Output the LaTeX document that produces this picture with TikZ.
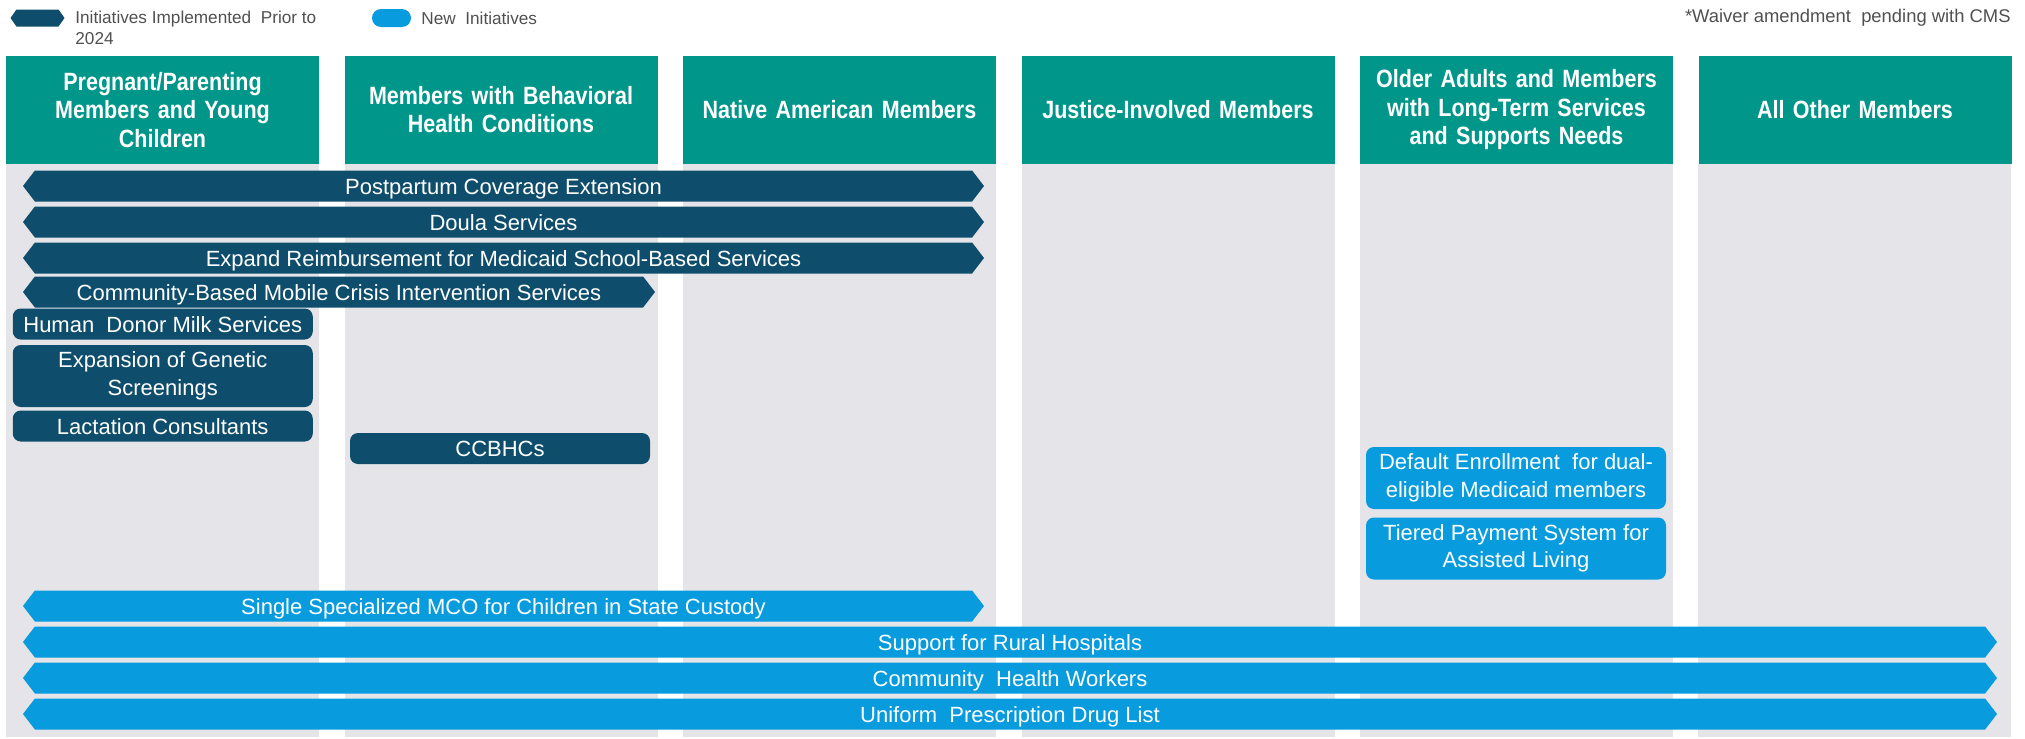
\documentclass[tikz,border=0pt]{standalone}
\usepackage{fontspec}
\setmainfont{Liberation Sans}
\newfontfamily\headfont[FakeStretch=0.86]{Liberation Sans}
\usetikzlibrary{shapes.symbols,shapes.misc}

\definecolor{headteal}{RGB}{0,150,138}
\definecolor{oldnavy}{RGB}{14,78,108}
\definecolor{newblue}{RGB}{8,155,222}
\definecolor{lanegray}{RGB}{228,228,233}
\definecolor{notegray}{RGB}{80,80,80}

\tikzset{
  head/.style={fill=headteal, text=white, font=\headfont\bfseries\fontsize{12.5}{14.2}\selectfont,
    align=center, text width=150pt, minimum width=156.5pt, minimum height=54.25pt, inner sep=0pt},
  barfont/.style={text=white, font=\fontsize{11}{13.8}\selectfont, align=center, inner sep=0pt},
  oneline/.style={text height=8pt, text depth=0pt},
  oldrun/.style={barfont, oneline, shape=signal, signal to=west and east, signal pointer angle=105,
    fill=oldnavy, minimum height=15.5pt},
  newrun/.style={oldrun, fill=newblue},
  oldbox/.style={barfont, rectangle, rounded corners=4pt, fill=oldnavy,
    minimum width=150pt, minimum height=15.5pt},
  newbox/.style={oldbox, fill=newblue},
  oldtag/.style={oldbox, oneline},
  keytext/.style={text=notegray, font=\fontsize{8.6}{10.5}\selectfont, inner sep=0pt, align=left}
}

\begin{document}
\begin{tikzpicture}[x=0.5pt,y=-0.5pt]
\useasboundingbox (0,0) rectangle (2025,739);

% legend and note
\node[oldrun, minimum width=27pt, minimum height=8.5pt, signal pointer angle=110] (keyold) at (37.5,18) {};
\node[keytext, anchor=north west] (keyoldtext) at (75,11) {Initiatives Implemented\ \ Prior to\\2024};
\node[rounded rectangle, fill=newblue, minimum width=19.5pt, minimum height=9pt, inner sep=0pt] (keynew) at (391.5,18) {};
\node[keytext, anchor=west] (keynewtext) at (421,18) {New\ \ Initiatives};
\node[keytext, anchor=east, font=\fontsize{9.2}{11}\selectfont] (waiver) at (2011,18) {*Waiver amendment\ \ pending with CMS};

% grey lanes
\foreach \x in {6,344.5,683,1021.5,1360,1698}
  \fill[lanegray] (\x,164) rectangle ++(313,573);

% column headers
\node[head] (pregnant) at (162.5,109.75) {Pregnant/Parenting\\Members and Young\\Children};
\node[head] (behavioral) at (501,109.75) {Members with Behavioral\\Health Conditions};
\node[head] (native) at (839.5,109.75) {Native American Members};
\node[head] (justice) at (1178,109.75) {Justice-Involved Members};
\node[head] (olderadults) at (1516.5,109.75) {Older Adults and Members\\with Long-Term Services\\and Supports Needs};
\node[head] (allother) at (1855,109.75) {All Other Members};

% initiatives before 2024
\node[oldrun, minimum width=480.5pt] (postpartum) at (503.5,186) {Postpartum Coverage Extension};
\node[oldrun, minimum width=480.5pt] (doula) at (503.5,222) {Doula Services};
\node[oldrun, minimum width=480.5pt] (schoolbased) at (503.5,258) {Expand Reimbursement for Medicaid School-Based Services};
\node[oldrun, minimum width=316pt] (mobilecrisis) at (339,292) {Community-Based Mobile Crisis Intervention Services};
\node[oldtag] (donormilk) at (162.75,324) {Human\ \ Donor Milk Services};
\node[oldbox, minimum height=31pt] (genetic) at (162.75,376) {Expansion of Genetic\\Screenings};
\node[oldtag] (lactation) at (162.75,426) {Lactation Consultants};
\node[oldtag] (ccbhc) at (500,448.5) {CCBHCs};

% new initiatives
\node[newbox, minimum height=31pt] (dualenroll) at (1516,478) {Default Enrollment\ \ for dual-\\eligible Medicaid members};
\node[newbox, minimum height=31pt] (tieredpay) at (1516,548.5) {Tiered Payment System for\\Assisted Living};
\node[newrun, minimum width=480.5pt] (mcocustody) at (503.5,606) {Single Specialized MCO for Children in State Custody};
\node[newrun, minimum width=987pt] (ruralhosp) at (1010,642) {Support for Rural Hospitals};
\node[newrun, minimum width=987pt] (healthworkers) at (1010,678) {Community\ \ Health Workers};
\node[newrun, minimum width=987pt] (druglist) at (1010,714) {Uniform\ \ Prescription Drug List};
\end{tikzpicture}
\end{document}
